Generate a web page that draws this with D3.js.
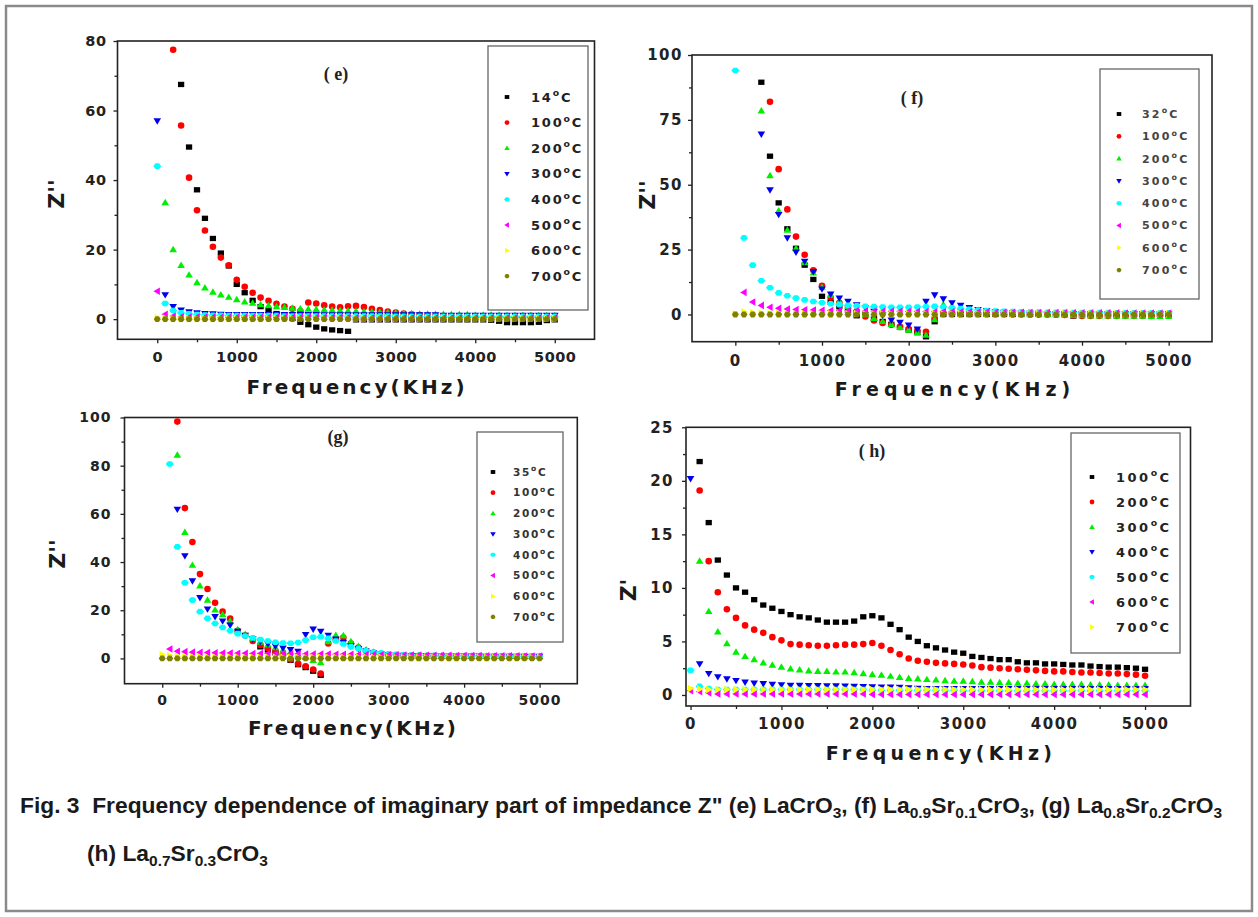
<!DOCTYPE html>
<html>
<head>
<meta charset="utf-8">
<script src="https://cdn.jsdelivr.net/npm/d3@7"></script>
<style>
body{margin:0;background:#fff;}
svg{display:block;}
</style>
</head>
<body>
<svg id="fig"></svg>
<script>
var W=1258, H=917;

// frequency grid, KHz
var freq=[0,100,200,300,400,500,600,700,800,900,1000,1100,1200,1300,1400,1500,1600,1700,1800,1900,
  2000,2100,2200,2300,2400,2500,2600,2700,2800,2900,3000,3100,3200,3300,3400,3500,3600,3700,3800,3900,
  4000,4100,4200,4300,4400,4500,4600,4700,4800,4900,5000];

var xMajor=[0,1000,2000,3000,4000,5000];
var xMinor=[500,1500,2500,3500,4500];

// (e) LaCrO3
var eTemps=["14","100","200","300","400","500","600","700"];
var e14=[null,null,null,67.5,49.5,37.2,29,23.2,19,15.3, 10,7.6,5.4,3.6,2.6,1.6,0.9,0.2,-0.9,-1.6,
  -2.3,-2.8,-3.1,-3.3,-3.5,-0.2,-0.2,-0.2,-0.2,-0.2, -0.2,-0.2,-0.2,-0.2,-0.2,-0.2,-0.2,-0.2,-0.2,-0.2,
  -0.2,-0.2,-0.3,-0.6,-1.0,-1.0,-1.0,-1.0,-0.9,-0.4, -0.2];
var e100=[null,null,77.5,55.7,40.7,31.3,25.5,20.8,17.7,15.5, 11.3,9.3,7.6,6.2,5.3,4.4,3.6,3.0,2.3,4.8,
  4.5,4.0,3.6,3.4,3.7,3.8,3.5,3.0,2.6,2.2, 1.9,1.6,1.4,1.2,1.0,0.9,0.8,0.8,0.7,0.7,
  0.7,0.6,0.6,0.6,0.5,0.5,0.5,0.5,0.5,0.5, 0.5];
var e200=[null,33.5,20,15.5,12.7,10.5,9.0,7.8,7.0,6.3, 5.6,5.0,4.6,4.2,3.9,3.6,3.4,3.2,3.0,2.9,
  2.8,2.7,2.6,2.5,2.4,2.3,2.2,2.1,2.0,1.9, 1.8,1.7,1.6,1.5,1.5,1.4,1.4,1.3,1.3,1.3,
  1.2,1.2,1.2,1.2,1.1,1.1,1.1,1.1,1.0,1.0, 1.0];
var e300=[57,7,3.6,2.6,2.1,1.8,1.6,1.5,1.4,1.3, 1.3,1.3,1.3,1.3,1.3,1.3,1.3,1.3,1.3,1.3,
  1.3,1.2,1.2,1.2,1.2,1.2,1.2,1.2,1.2,1.2, 1.2,1.2,1.2,1.2,1.2,1.2,1.1,1.1,1.1,1.1,
  1.1,1.1,1.1,1.1,1.1,1.1,1.1,1.1,1.1,1.1, 1.1];
var e400=[44,4.5,2.5,1.8,1.5,1.3,1.2,1.1,1.1,1.0, 1.0,1.0,1.0,1.0,1.0,1.0,0.9,0.9,0.9,0.9,
  0.9,0.9,0.9,0.9,0.9,0.9,0.9,0.9,0.9,0.9, 0.8,0.8,0.8,0.8,0.8,0.8,0.8,0.8,0.8,0.8,
  0.8,0.8,0.8,0.8,0.8,0.8,0.8,0.8,0.8,0.8, 0.8];
var e500=[8,1.4,0.9,0.7,0.6,0.6,0.6,0.6,0.5,0.5, 0.5,0.5,0.5,0.5,0.5,0.5,0.5,0.5,0.5,0.5,
  0.5,0.5,0.5,0.5,0.5,0.4,0.4,0.4,0.4,0.4, 0.4,0.4,0.4,0.4,0.4,0.4,0.4,0.4,0.4,0.4,
  0.4,0.4,0.4,0.4,0.4,0.4,0.4,0.4,0.4,0.4, 0.4];
var e600=[0.4,0.3,0.2,0.2,0.2,0.2,0.2,0.2,0.2,0.2, 0.2,0.2,0.2,0.2,0.2,0.2,0.2,0.2,0.2,0.2,
  0.2,0.2,0.2,0.2,0.2,0.2,0.2,0.2,0.2,0.2, 0.2,0.2,0.2,0.2,0.2,0.2,0.2,0.2,0.2,0.2,
  0.2,0.2,0.2,0.2,0.2,0.2,0.2,0.2,0.2,0.2, 0.2];
var e700=[0,0,0,0,0,0,0,0,0,0, 0,0,0,0,0,0,0,0,0,0, 0,0,0,0,0,0,0,0,0,0,
  0,0,0,0,0,0,0,0,0,0, 0,0,0,0,0,0,0,0,0,0, 0];

// (f) La0.9Sr0.1CrO3
var fTemps=["32","100","200","300","400","500","600","700"];
var f32=[null,null,null,89.5,61,43,33,25.5,19,13.5, 7,4.8,3.0,1.5,-0.5,0,-1.5,-2.7,-3.8,-5.0,
  -6.0,-7.0,-8.6,-2.8,0,0,0,0,0,0, 0,0,0,0,0,0,0,0,0,-0.6,
  0,0,0,0,0,0,0,0,0,0, 0];
var f100=[null,null,null,null,82,56,40.5,30,23,17, 11,6.5,4.5,3.0,1.2,-0.8,-2.3,-3.3,-4.0,-4.8,
  -5.6,-6.2,-6.7,-1.5,0.5,0.5,0.4,0.4,0.3,0.3, 0.2,0.2,0.1,0.1,0,0,0,-0.1,-0.2,-0.3,
  -0.6,-0.6,-0.6,-0.6,-0.6,-0.6,-0.6,-0.6,-0.6,-0.5, -0.5];
var f200=[null,null,null,78.5,53.5,40,32.5,25.5,20,16, 10.5,7.5,5.0,3.0,1.5,0,-1.5,-2.7,-3.8,-5.0,
  -6.0,-7.0,-8.0,-2.0,3.8,3.3,2.6,2.0,1.5,1.1, 0.8,0.6,0.4,0.3,0.2,0.1,0,-0.1,-0.2,-0.3,
  -0.4,-0.5,-0.5,-0.5,-0.6,-0.6,-0.6,-0.6,-0.7,-0.7, -0.7];
var f300=[null,null,null,69.5,48,38.5,29.5,24,20.5,16.5, 9.8,7.8,6.3,5.0,3.7,2.5,1.2,-0.3,-2.2,-3.1,
  -4.1,-5.7,5.0,7.5,6.0,4.5,3.5,2.6,1.9,1.4, 1.0,0.8,0.6,0.5,0.4,0.4,0.3,0.3,0.3,0.3,
  0.2,0.2,0.2,0.2,0.2,0.2,0.2,0.2,0.2,0.2, 0.2];
var f400=[94,29.5,19,13,10.3,8.3,7.2,6.3,5.6,5.0, 4.5,4.1,3.8,3.5,3.3,3.1,3.0,2.9,2.8,2.8,
  2.8,2.9,3.0,3.1,2.9,2.6,2.3,2.0,1.7,1.5, 1.3,1.2,1.1,1.0,0.9,0.9,0.8,0.8,0.8,0.7,
  0.7,0.7,0.7,0.7,0.6,0.6,0.6,0.6,0.6,0.6, 0.6];
var f500=[null,8.5,4.8,3.5,2.8,2.4,2.1,1.9,1.8,1.7, 1.6,1.5,1.5,1.4,1.4,1.3,1.3,1.2,1.2,1.2,
  1.1,1.1,1.1,1.0,1.0,1.0,0.9,0.9,0.9,0.9, 0.8,0.8,0.8,0.8,0.7,0.7,0.7,0.7,0.7,0.6,
  0.6,0.6,0.6,0.6,0.6,0.5,0.5,0.5,0.5,0.5, 0.5];
var f600=[0.3,1.0,0.7,0.5,0.4,0.4,0.3,0.3,0.3,0.3, 0.3,0.3,0.3,0.3,0.3,0.3,0.3,0.3,0.3,0.3,
  0.3,0.3,0.3,0.3,0.3,0.3,0.3,0.3,0.3,0.3, 0.3,0.3,0.3,0.3,0.3,0.3,0.3,0.3,0.3,0.3,
  0.3,0.3,0.3,0.3,0.3,0.3,0.3,0.3,0.3,0.3, 0.3];
var f700=[0,0,0,0,0,0,0,0,0,0, 0,0,0,0,0,0,0,0,0,0, 0,0,0,0,0,0,0,0,0,0,
  0,0,0,0,0,0,0,0,0,0, 0,0,0,0,0,0,0,0,0,0, 0];

// (g) La0.8Sr0.2CrO3
var gTemps=["35","100","200","300","400","500","600","700"];
var g35=[null,null,null,null,null,null,null,null,null,null, null,null,null,4.8,3.5,2.3,1.0,-0.8,-2.6,-3.8,
  -5.3,-7.0,null,null,null,null,null,null,null,null, null,null,null,null,null,null,null,null,null,null,
  null,null,null,null,null,null,null,null,null,null, null];
var g100=[null,null,98.3,62.4,48.3,35,28.8,23.1,19.4,16.5, 11.5,9.5,7.2,5.6,4.2,3.0,1.6,-0.5,-2.2,-3.3,
  -4.6,-6.3,6.2,8.0,8.7,6.2,4.5,3.2,2.3,1.8, 1.5,1.3,1.2,1.1,1.0,0.9,0.9,0.9,0.8,0.8,
  0.8,0.8,0.7,0.7,0.7,0.7,0.7,0.6,0.6,0.6, 0.6];
var g200=[null,null,84.4,52.3,38.7,30.1,24.2,20.1,18.2,15.5, 12,10,8.2,6.8,5.6,4.5,3.5,2.6,1.6,0.5,
  -0.8,-1.7,7.0,9.6,9.5,7.0,5.0,3.6,2.6,2.0, 1.6,1.4,1.3,1.2,1.2,1.1,1.1,1.1,1.0,1.0,
  1.0,1.0,1.0,1.0,0.9,0.9,0.9,0.9,0.9,0.9, 0.9];
var g300=[null,null,61.9,42.6,32.2,25.2,20.5,17.3,15.5,13.8, 11.2,9.6,8.1,7.0,6.0,5.1,4.3,3.6,2.9,9.9,
  12.1,11.2,9.6,8.0,6.6,5.2,4.0,3.0,2.3,1.8, 1.5,1.3,1.2,1.1,1.0,1.0,1.0,0.9,0.9,0.9,
  0.9,0.9,0.9,0.8,0.8,0.8,0.8,0.8,0.8,0.8, 0.8];
var g400=[null,80.7,46.3,31.4,24.2,19.4,16.6,14.5,12.8,11.5, 10.3,9.3,8.5,7.8,7.2,6.7,6.4,6.3,6.6,7.6,
  8.8,9.0,8.3,7.2,6.0,4.9,4.0,3.2,2.6,2.2, 1.9,1.7,1.5,1.4,1.3,1.2,1.2,1.1,1.1,1.1,
  1.0,1.0,1.0,1.0,1.0,1.0,0.9,0.9,0.9,0.9, 0.9];
var g500=[null,3.9,3.0,2.8,2.6,2.5,2.4,2.3,2.2,2.2, 2.1,2.1,2.0,2.0,2.0,1.9,1.9,1.9,1.9,1.8,
  1.8,1.8,1.8,1.7,1.7,1.7,1.6,1.6,1.6,1.5, 1.5,1.5,1.4,1.4,1.4,1.3,1.3,1.3,1.3,1.2,
  1.2,1.2,1.2,1.1,1.1,1.1,1.1,1.1,1.0,1.0, 1.0];
var g600=[1.5,1.2,0.9,0.8,0.7,0.7,0.6,0.6,0.6,0.6, 0.6,0.5,0.5,0.5,0.5,0.5,0.5,0.5,0.5,0.5,
  0.5,0.5,0.5,0.5,0.5,0.5,0.5,0.5,0.5,0.5, 0.4,0.4,0.4,0.4,0.4,0.4,0.4,0.4,0.4,0.4,
  0.4,0.4,0.4,0.4,0.4,0.4,0.4,0.4,0.4,0.4, 0.4];
var g700=[0,0,0,0,0,0,0,0,0,0, 0,0,0,0,0,0,0,0,0,0, 0,0,0,0,0,0,0,0,0,0,
  0,0,0,0,0,0,0,0,0,0, 0,0,0,0,0,0,0,0,0,0, 0];

// (h) La0.7Sr0.3CrO3
var hTemps=["100","200","300","400","500","600","700"];
var h100=[null,21.8,16.1,12.6,11.2,10.0,9.6,8.9,8.4,8.1, 7.8,7.5,7.3,7.2,7.0,6.8,6.8,6.8,6.9,7.3,
  7.4,7.2,6.6,6.1,5.4,5.0,4.6,4.4,4.2,4.0, 3.9,3.6,3.5,3.4,3.3,3.3,3.1,3.0,3.0,2.9,
  2.9,2.85,2.8,2.8,2.7,2.65,2.6,2.6,2.55,2.5, 2.4];
var h200=[null,19.1,12.5,9.6,8.0,7.2,6.5,6.1,5.8,5.4, 5.1,4.75,4.7,4.65,4.6,4.6,4.65,4.7,4.7,4.75,
  4.85,4.6,4.2,3.8,3.4,3.2,3.1,3.0,2.95,2.9, 2.85,2.75,2.6,2.55,2.5,2.45,2.4,2.35,2.3,2.25,
  2.2,2.2,2.15,2.1,2.1,2.05,2.0,2.0,1.95,1.9, 1.8];
var h300=[null,12.5,7.8,5.9,4.8,4.0,3.6,3.3,3.0,2.8, 2.6,2.45,2.35,2.25,2.2,2.2,2.15,2.15,2.1,2.0,
  1.9,1.85,1.75,1.65,1.55,1.5,1.45,1.4,1.35,1.3, 1.3,1.25,1.2,1.2,1.15,1.15,1.1,1.1,1.05,1.05,
  1.0,1.0,1.0,1.0,0.95,0.95,0.95,0.9,0.9,0.9, 0.9];
var h400=[20.2,2.9,2.0,1.7,1.5,1.35,1.2,1.1,1.05,1.0, 0.95,0.9,0.9,0.88,0.86,0.85,0.84,0.82,0.8,0.78,
  0.76,0.74,0.72,0.7,0.65,0.62,0.6,0.6,0.6,0.6, 0.6,0.6,0.6,0.6,0.6,0.6,0.6,0.6,0.6,0.6,
  0.6,0.6,0.6,0.6,0.6,0.6,0.6,0.6,0.6,0.6, 0.6];
var h500=[2.3,0.8,0.6,0.5,0.5,0.5,0.5,0.5,0.5,0.5, 0.5,0.5,0.5,0.5,0.5,0.5,0.5,0.5,0.5,0.5,
  0.45,0.45,0.45,0.45,0.45,0.45,0.45,0.45,0.45,0.45, 0.4,0.4,0.4,0.4,0.4,0.4,0.4,0.4,0.4,0.4,
  0.4,0.4,0.4,0.4,0.4,0.4,0.4,0.4,0.4,0.4, 0.4];
var h600=[0.4,0.3,0.2,0.1,0.1,0.1,0.1,0.1,0.1,0.1, 0.1,0.1,0.1,0.1,0.1,0.1,0.1,0.1,0.1,0.1,
  0.05,0.05,0.05,0.05,0.05,0.05,0.05,0.05,0.05,0.05, 0.05,0.05,0.05,0.05,0.05,0.05,0.05,0.05,0.05,0.05,
  0.05,0.05,0.05,0.05,0.05,0.05,0.05,0.05,0.05,0.05, 0.05];
var h700=[0.6,0.55,0.5,0.5,0.5,0.5,0.5,0.5,0.5,0.5, 0.5,0.5,0.5,0.5,0.5,0.5,0.5,0.5,0.5,0.5,
  0.5,0.5,0.5,0.5,0.5,0.5,0.5,0.5,0.5,0.5, 0.5,0.5,0.5,0.5,0.5,0.5,0.5,0.5,0.5,0.5,
  0.5,0.5,0.5,0.5,0.5,0.5,0.5,0.5,0.5,0.5, 0.5];

var colors=["#000000","#ff0000","#00ee00","#0000ee","#00ffff","#ff00ff","#ffff00","#808000"];

// marker shapes: square, circle, up, down, diamond, left, right, hexagon
var shapes=[
  function(r){var s=r*0.95;return "M"+(-s)+","+(-s*0.85)+"H"+s+"V"+(s*0.85)+"H"+(-s)+"Z";},
  function(r){return "M"+r+",0A"+r+","+r+" 0 1,1 "+(-r)+",0A"+r+","+r+" 0 1,1 "+r+",0Z";},
  function(r){return "M0,"+(-r*1.15)+"L"+(r*1.15)+","+(r*0.8)+"L"+(-r*1.15)+","+(r*0.8)+"Z";},
  function(r){return "M0,"+(r*1.15)+"L"+(r*1.15)+","+(-r*0.8)+"L"+(-r*1.15)+","+(-r*0.8)+"Z";},
  function(r){return "M"+(-r*1.2)+",0L"+(-r*0.55)+","+(-r*0.85)+"L"+(r*0.55)+","+(-r*0.85)+"L"+(r*1.2)+",0L"+(r*0.55)+","+(r*0.85)+"L"+(-r*0.55)+","+(r*0.85)+"Z";},
  function(r){return "M"+(-r*1.15)+",0L"+(r*0.8)+","+(-r*1.15)+"L"+(r*0.8)+","+(r*1.15)+"Z";},
  function(r){return "M"+(r*1.15)+",0L"+(-r*0.8)+","+(-r*1.15)+"L"+(-r*0.8)+","+(r*1.15)+"Z";},
  function(r){return "M"+(-r*1.05)+",0L"+(-r*0.5)+","+(-r*0.9)+"L"+(r*0.5)+","+(-r*0.9)+"L"+(r*1.05)+",0L"+(r*0.5)+","+(r*0.9)+"L"+(-r*0.5)+","+(r*0.9)+"Z";}
];

var panels=[
  {temps:eTemps, series:[e14,e100,e200,e300,e400,e500,e600,e700],
   x0:117.5, x1:594.5, y0:41, y1:339.3, xDom:[-500,5500], yDom:[-5.8,80],
   yMajor:[0,20,40,60,80], yMinor:[10,30,50,70],
   tickFont:14.5, tickLs:0.5, xPad:8, yPad:7,
   title:"Frequency(KHz)", titleX:357, titleY:394, titleFont:20, titleLs:3,
   zText:"Z''", zX:56, zY:194,
   label:"( e)", labelX:336, labelY:74,
   leg:{x:488, y:46, w:100, h:264, sx:507, tx:531, ty:97, dy:25.6, font:13, ls:1.8, fill:"#222"}},
  {temps:fTemps, series:[f32,f100,f200,f300,f400,f500,f600,f700],
   x0:692, x1:1212, y0:55, y1:341.7, xDom:[-500,5500], yDom:[-10.5,100],
   yMajor:[0,25,50,75,100], yMinor:[12.5,37.5,62.5,87.5],
   tickFont:15, tickLs:1.5, xPad:10, yPad:5,
   title:"Frequency(KHz)", titleX:955, titleY:396, titleFont:19, titleLs:5,
   zText:"Z''", zX:647, zY:195,
   label:"( f)", labelX:912, labelY:98,
   leg:{x:1100, y:69, w:99, h:230, sx:1119, tx:1142, ty:114, dy:22.3, font:11, ls:2.2, fill:"#444"}},
  {temps:gTemps, series:[g35,g100,g200,g300,g400,g500,g600,g700],
   x0:124.5, x1:577.3, y0:417.5, y1:683.7, xDom:[-500,5500], yDom:[-10.5,100],
   yMajor:[0,20,40,60,80,100], yMinor:[10,30,50,70,90],
   tickFont:14, tickLs:1, xPad:7, yPad:9,
   title:"Frequency(KHz)", titleX:353, titleY:735, titleFont:20, titleLs:2.2,
   zText:"Z''", zX:57, zY:554,
   label:"(g)", labelX:338, labelY:437,
   leg:{x:477, y:432, w:86, h:210, sx:493, tx:513, ty:472, dy:20.7, font:10.5, ls:1.7, fill:"#333"}},
  {temps:hTemps, series:[h100,h200,h300,h400,h500,h600,h700],
   x0:686, x1:1190.5, y0:427.3, y1:706, xDom:[-50,5500], yDom:[-1.03,25],
   yMajor:[0,5,10,15,20,25], yMinor:[2.5,7.5,12.5,17.5,22.5],
   tickFont:15, tickLs:1.5, xPad:8, yPad:8,
   title:"Frequency(KHz)", titleX:941, titleY:760, titleFont:19, titleLs:4.3,
   zText:"Z'", zX:628, zY:590,
   label:"( h)", labelX:872, labelY:451,
   leg:{x:1071, y:433, w:109, h:220, sx:1092, tx:1116, ty:477, dy:25, font:13, ls:2.5, fill:"#222"}}
];

var svg=d3.select("#fig").attr("width",W).attr("height",H);
svg.append("rect").attr("x",0).attr("y",0).attr("width",W).attr("height",H).attr("fill","#fff");
svg.append("rect").attr("x",6).attr("y",6).attr("width",1246).attr("height",905)
  .attr("fill","none").attr("stroke","#8a8a8a").attr("stroke-width",2.5);

function drawPanel(p){
  var x=d3.scaleLinear().domain(p.xDom).range([p.x0,p.x1]);
  var y=d3.scaleLinear().domain(p.yDom).range([p.y1,p.y0]);
  var g=svg.append("g");

  // ticks
  g.append("g").attr("transform","translate(0,"+p.y1+")")
    .call(d3.axisBottom(x).tickValues(xMajor).tickSize(4).tickPadding(p.xPad).tickFormat(d3.format("d")));
  g.append("g").attr("transform","translate(0,"+p.y1+")")
    .call(d3.axisBottom(x).tickValues(xMinor).tickSize(3).tickFormat(""));
  g.append("g").attr("transform","translate("+p.x0+",0)")
    .call(d3.axisLeft(y).tickValues(p.yMajor).tickSize(4).tickPadding(p.yPad).tickFormat(d3.format("d")));
  g.append("g").attr("transform","translate("+p.x0+",0)")
    .call(d3.axisLeft(y).tickValues(p.yMinor).tickSize(3).tickFormat(""));
  g.selectAll(".domain").remove();
  g.selectAll(".tick line").attr("stroke","#222").attr("stroke-width",1.3);
  g.selectAll(".tick text").attr("font-family","DejaVu Sans").attr("font-weight","bold")
    .attr("font-size",p.tickFont).attr("fill","#222").style("letter-spacing",p.tickLs+"px");

  // frame
  g.append("rect").attr("x",p.x0).attr("y",p.y0).attr("width",p.x1-p.x0).attr("height",p.y1-p.y0)
    .attr("fill","none").attr("stroke","#222").attr("stroke-width",1.6);

  // points
  p.series.forEach(function(vals,si){
    var pts=freq.map(function(f,i){return {f:f,v:vals[i]};})
      .filter(function(d){return d.v!==null;});
    g.append("g").selectAll("path").data(pts).enter().append("path")
      .attr("d",shapes[si](3.3))
      .attr("transform",function(d){return "translate("+x(d.f)+","+y(d.v)+")";})
      .attr("fill",colors[si]);
  });

  // legend
  var L=p.leg;
  g.append("rect").attr("x",L.x).attr("y",L.y).attr("width",L.w).attr("height",L.h)
    .attr("fill","none").attr("stroke","#666").attr("stroke-width",1.3);
  p.temps.forEach(function(t,i){
    var yy=L.ty+i*L.dy;
    g.append("path").attr("d",shapes[i](2.4))
      .attr("transform","translate("+L.sx+","+yy+")").attr("fill",colors[i]);
    var tx=g.append("text").attr("x",L.tx).attr("y",yy+L.font*0.36)
      .attr("font-family","DejaVu Sans").attr("font-weight","bold")
      .attr("font-size",L.font).attr("fill",L.fill).style("letter-spacing",L.ls+"px");
    tx.append("tspan").text(t);
    tx.append("tspan").attr("font-size",L.font*0.72).attr("dy",-L.font*0.42).text("o");
    tx.append("tspan").attr("dy",L.font*0.42).text("C");
  });

  // titles
  g.append("text").attr("x",p.titleX).attr("y",p.titleY).attr("text-anchor","middle")
    .attr("font-family","DejaVu Sans").attr("font-weight","bold").attr("font-size",p.titleFont)
    .attr("fill","#1a1a1a").style("letter-spacing",p.titleLs+"px").text(p.title);
  g.append("text").attr("transform","translate("+p.zX+","+p.zY+") rotate(-90)")
    .attr("text-anchor","middle").attr("dy","0.36em")
    .attr("font-family","DejaVu Sans").attr("font-weight","bold").attr("font-size",22)
    .attr("fill","#1a1a1a").text(p.zText);
  g.append("text").attr("x",p.labelX).attr("y",p.labelY).attr("text-anchor","middle").attr("dy","0.35em")
    .attr("font-family","Liberation Serif").attr("font-weight","bold").attr("font-size",18)
    .attr("fill","#222").style("white-space","pre").text(p.label);
}

panels.forEach(drawPanel);

// caption
function caption(x,yb,parts){
  var t=svg.append("text").attr("x",x).attr("y",yb)
    .attr("font-family","Liberation Sans").attr("font-weight","bold").attr("font-size",22.8)
    .attr("fill","#1a1a1a").style("white-space","pre");
  var down=false;
  parts.forEach(function(s){
    var sub=s.charAt(0)==="_";
    var span=t.append("tspan").text(sub?s.slice(1):s);
    if(sub&&!down){span.attr("dy",5).attr("font-size",15.5);down=true;}
    else if(sub){span.attr("font-size",15.5);}
    else if(down){span.attr("dy",-5);down=false;}
  });
}
caption(20,813,["Fig. 3  Frequency dependence of imaginary part of impedance Z\" (e) LaCrO","_3",
  ", (f) La","_0.9","Sr","_0.1","CrO","_3",", (g) La","_0.8","Sr","_0.2","CrO","_3"]);
caption(87,861,["(h) La","_0.7","Sr","_0.3","CrO","_3"]);
</script>
</body>
</html>
